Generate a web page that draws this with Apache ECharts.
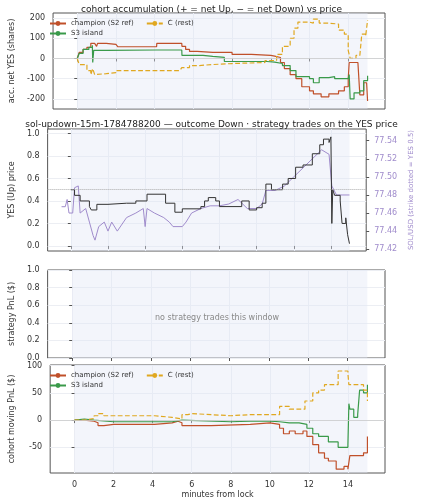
<!DOCTYPE html><html><head><meta charset="utf-8"><script src="https://cdn.jsdelivr.net/npm/echarts@6/dist/echarts.min.js"></script>
<style>html,body{margin:0;background:#fff}#c{width:423px;height:500px}</style></head><body><div id="c"></div><script>
const accChampion=[[0,0],[0.1,30],[0.3,45],[0.5,55],[0.7,75],[0.9,70],[1.0,60],[1.05,75],[1.5,70],[2,65],[2.1,58],[4.1,58],[4.11,75],[5.4,75],[5.41,60],[5.6,45],[5.8,35],[6.2,30],[7,30],[8,20],[9,15],[10,12],[10.2,5],[10.5,-20],[10.7,-50],[11,-80],[11.3,-100],[11.6,-140],[12,-160],[12.2,-175],[12.6,-190],[13,-175],[13.5,-160],[13.8,-140],[14,-100],[14.05,-20],[14.5,-20],[14.6,-180],[14.8,-120],[14.95,-115],[15,-210]];
const accS3=[[0,0],[0.1,25],[0.3,45],[0.6,55],[0.78,65],[0.8,-20],[0.85,40],[1.5,42],[4.1,42],[5.4,40],[5.41,15],[6.5,10],[7,5],[7.6,-15],[9.8,-18],[10.2,-25],[10.6,-35],[11,-60],[11.3,-90],[12,-100],[12.2,-120],[12.5,-95],[13,-90],[13.3,-100],[14,-100],[14.05,-80],[14.1,-200],[14.3,-170],[14.6,-160],[14.8,-110],[15,-85]];
const accC=[[0,0],[0.1,-30],[0.5,-60],[0.7,-80],[0.8,-50],[0.9,-80],[1.0,-75],[1.5,-70],[2,-60],[5.3,-60],[5.4,-45],[5.8,-35],[6.3,-30],[7,-25],[8,-20],[9.7,-10],[10,-10],[10.3,20],[10.6,60],[11,100],[11.2,150],[11.4,180],[12,175],[12.2,195],[12.5,175],[13,170],[13.5,140],[13.8,120],[14,40],[14.1,0],[14.4,15],[14.6,10],[14.7,120],[14.9,110],[15,190]];
const yesPrice=[[0,0.5],[0.2,0.45],[0.5,0.4],[1,0.35],[1.1,0.32],[1.4,0.37],[2,0.38],[3,0.38],[3.5,0.4],[4.1,0.46],[5.1,0.38],[5.6,0.3],[6,0.33],[7,0.35],[7.2,0.4],[7.4,0.43],[7.8,0.4],[8,0.35],[9.2,0.4],[9.6,0.32],[10,0.34],[10.3,0.38],[10.5,0.55],[10.8,0.5],[11.4,0.55],[11.7,0.6],[12.1,0.7],[12.5,0.72],[13,0.82],[13.4,0.9],[13.6,0.95],[13.9,0.92],[14,0.97],[14.05,0.2],[14.1,0.5],[14.2,0.45],[14.5,0.4],[14.6,0.2],[14.8,0.25],[14.9,0.1],[15,0.02]];
const solUsd=[[-0.5,77.467],[-0.3,77.467],[-0.2,77.475],[-0.1,77.46],[0.1,77.46],[0.2,77.488],[0.4,77.49],[0.5,77.46],[0.8,77.465],[1,77.45],[1.2,77.435],[1.3,77.43],[1.5,77.445],[1.8,77.45],[2,77.44],[2.2,77.45],[2.5,77.44],[3,77.455],[3.5,77.46],[3.9,77.465],[4,77.445],[4.1,77.465],[4.5,77.46],[5,77.455],[5.3,77.45],[5.5,77.445],[6,77.445],[6.2,77.45],[6.5,77.46],[7,77.465],[7.5,77.468],[8,77.468],[8.5,77.47],[9,77.475],[9.5,77.465],[10,77.465],[10.3,77.47],[10.5,77.485],[11,77.485],[11.5,77.49],[12,77.5],[12.5,77.51],[13,77.52],[13.5,77.53],[13.9,77.525],[14.05,77.49],[14.3,77.48],[14.6,77.48],[15,77.48]];
const pnlChampion=[[0,0],[0.5,-2],[1,-5],[1.2,-10],[1.5,-8],[2,-8],[4.1,-5],[5,-2],[5.3,-5],[5.5,-10],[6,-10],[7,-8],[9,-5],[10,-8],[10.5,-15],[10.7,-25],[11,-20],[11.3,-25],[11.7,-20],[11.9,-30],[12.2,-45],[12.5,-60],[12.8,-70],[13,-75],[13.4,-90],[13.8,-85],[14,-90],[14.1,-65],[14.8,-60],[15,-30]];
const pnlS3=[[0,0],[0.1,2],[0.5,0],[1,-3],[2,-3],[5,0],[5.5,-3],[8,-2],[9,-2],[10,-3],[10.5,-5],[11,-5],[11.5,-8],[11.9,-15],[12.2,-25],[12.5,-30],[13,-40],[13.5,-50],[14,-45],[14.05,30],[14.1,20],[14.3,5],[14.5,10],[14.6,55],[14.8,50],[15,65]];
const pnlC=[[0,0],[0.5,3],[1,8],[1.2,12],[1.5,8],[2,8],[4.1,5],[5,2],[5.5,10],[5.8,12],[6,10],[7,8],[8,10],[9,10],[10,10],[10.5,25],[11,20],[11.5,20],[11.8,35],[12.2,50],[12.5,55],[12.8,65],[13.5,90],[14,85],[14.05,65],[14.8,55],[15,35]];
const xTicks=[0,2,4,6,8,10,12,14];
const names=['champion (S2 ref)','S3 island','C (rest)'];
const colors=['#c0502a','#3a9a4a','#e0a820'];
const F='DejaVu Sans';
const grids=[{top:13,height:96},{top:129,height:122},{top:270,height:88},{top:365,height:108}].map(g=>Object.assign(g,{left:39,right:38,show:true,borderColor:'#555',borderWidth:1,backgroundColor:'transparent'}));
const xAxes=grids.map((g,i)=>({type:'value',gridIndex:i,min:-1.25,max:15.9,axisTick:{customValues:xTicks,length:3,lineStyle:{color:'#555'}},axisLabel:{show:i===3,customValues:xTicks,fontFamily:F,fontSize:8,color:'#333'},axisLine:{show:false},splitLine:{show:true,lineStyle:{color:'#eceef3'}},name:i===3?'minutes from lock':'',nameLocation:'middle',nameGap:18,nameTextStyle:{fontFamily:F,fontSize:8,color:'#333'}}));
function yax(i,min,max,ticks,name,extra){return Object.assign({type:'value',gridIndex:i,min,max,axisTick:{show:true,customValues:ticks,length:3,lineStyle:{color:'#555'}},axisLabel:{customValues:ticks,fontFamily:F,fontSize:8,color:'#333'},axisLine:{show:false},splitLine:{show:true,lineStyle:{color:'#eceef3'}},name,nameLocation:'middle',nameGap:26,nameTextStyle:{fontFamily:F,fontSize:8,color:'#333'}},extra||{});}
const yAxes=[yax(0,-250,225,[-200,-100,0,100,200],'acc. net YES (shares)'),
yax(1,-0.045,1.04,[0,0.2,0.4,0.6,0.8,1.0],'YES (Up) price',{axisLabel:{customValues:[0,0.2,0.4,0.6,0.8,1.0],formatter:v=>v.toFixed(1),fontFamily:F,fontSize:8,color:'#333'}}),
yax(1,77.418,77.553,[77.42,77.44,77.46,77.48,77.5,77.52,77.54],'SOL/USD (strike dotted = YES 0.5)',{position:'right',splitLine:{show:false},nameGap:34,nameTextStyle:{fontFamily:F,fontSize:7,color:'#a08ccc'},axisLabel:{customValues:[77.42,77.44,77.46,77.48,77.5,77.52,77.54],formatter:v=>v.toFixed(2),fontFamily:F,fontSize:8,color:'#a08ccc'}}),
yax(2,0,1,[0,0.2,0.4,0.6,0.8,1.0],'strategy PnL ($)',{axisLabel:{customValues:[0,0.2,0.4,0.6,0.8,1.0],formatter:v=>v.toFixed(1),fontFamily:F,fontSize:8,color:'#333'}}),
yax(3,-97,101,[-50,0,50,100],'cohort moving PnL ($)')];
const shade=(xi,yi)=>({type:'line',xAxisIndex:xi,yAxisIndex:yi,data:[],silent:true,markArea:{silent:true,itemStyle:{color:'rgba(225,230,245,0.4)'},data:[[{xAxis:0},{xAxis:15}]]}});
const series=[];
[[0,0],[1,1],[2,3],[3,4]].forEach(([g,y])=>series.push(shade(g,y)));
function lines(g,y,arrs){arrs.forEach((d,k)=>{const s={type:'line',name:names[k],step:'end',xAxisIndex:g,yAxisIndex:y,data:d,symbol:'none',lineStyle:{color:colors[k],width:1.2,type:k===2?'dashed':'solid'},itemStyle:{color:colors[k]},z:3};
if(k===0)s.markLine={silent:true,symbol:'none',label:{show:false},lineStyle:{color:'#ccc',type:'solid',width:0.8},data:[{yAxis:0}]};series.push(s);});}
lines(0,0,[accChampion,accS3,accC]);
lines(3,4,[pnlChampion,pnlS3,pnlC]);
series.push({type:'line',xAxisIndex:1,yAxisIndex:2,data:solUsd,symbol:'none',lineStyle:{color:'#a08ccc',width:1},z:2});
series.push({type:'line',xAxisIndex:1,yAxisIndex:1,data:yesPrice,step:'end',symbol:'none',lineStyle:{color:'#333',width:1},z:3,markLine:{silent:true,symbol:'none',label:{show:false},lineStyle:{color:'#aaa',type:'dotted',width:1},data:[{yAxis:0.5}]}});
const leg=(top)=>[{top:top,left:44,itemWidth:16,itemHeight:6,itemGap:12,data:[names[0],names[2]],textStyle:{fontFamily:F,fontSize:7,color:'#333'},selectedMode:false},{top:top+10,left:44,itemWidth:16,itemHeight:6,data:[names[1]],textStyle:{fontFamily:F,fontSize:7,color:'#333'},selectedMode:false}];
const opt={animation:false,backgroundColor:'#fff',grid:grids,xAxis:xAxes,yAxis:yAxes,series,
legend:[...leg(15),...leg(367)],
title:[{text:'cohort accumulation (+ = net Up, − = net Down) vs price',left:'center',top:0,textStyle:{fontFamily:F,fontSize:9,fontWeight:'normal',color:'#222'}},
{text:'sol-updown-15m-1784788200 — outcome Down · strategy trades on the YES price',left:'center',top:115,textStyle:{fontFamily:F,fontSize:9,fontWeight:'normal',color:'#222'}},
{text:'no strategy trades this window',left:212,top:309,textAlign:'center',textStyle:{fontFamily:F,fontSize:8,fontWeight:'normal',color:'#888'}}]};
echarts.init(document.getElementById('c')).setOption(opt);
</script></body></html>
